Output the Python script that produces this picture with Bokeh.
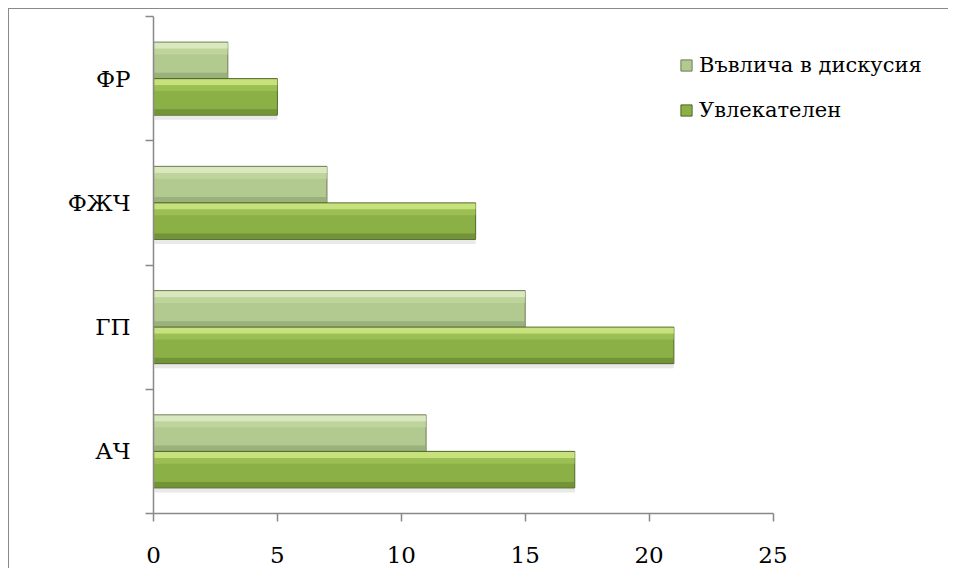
from bokeh.plotting import figure
from bokeh.models import ColumnDataSource, FixedTicker, Legend, LegendItem
from bokeh.transform import dodge
from bokeh.embed import file_html
from bokeh.resources import INLINE

# ---- data ----
categories = ["АЧ", "ГП", "ФЖЧ", "ФР"]
discussion = [11, 15, 7, 3]      # Въвлича в дискусия
engaging = [17, 21, 13, 5]       # Увлекателен
x_ticks = [0, 5, 10, 15, 20, 25]
series_names = ["Въвлича в дискусия", "Увлекателен"]

FONT = "DejaVu Serif"
FSIZE = "23px"
LSIZE = "21px"
GREY = "#898989"

W, H = 940, 560
ML, MR, MT, MB = 144, 4, 7, 56
X_MAX = 25
px_per_unit = 619.5 / X_MAX
x_end = (W - ML - MR) / px_per_unit

ypos = [i + 0.5 for i in range(len(categories))]
src = ColumnDataSource(dict(cat=categories, y=ypos, disc=discussion, eng=engaging))

p = figure(width=W, height=H, x_range=(0, x_end), y_range=(0, len(categories)),
           output_backend="svg", toolbar_location=None,
           min_border_left=ML, min_border_right=MR, min_border_top=MT, min_border_bottom=MB)
p.styles = {"margin-left": "8px", "margin-top": "8px",
            "border-left": "1.5px solid " + GREY, "border-top": "1.5px solid " + GREY}
p.outline_line_color = None
p.xgrid.visible = False
p.ygrid.visible = False
p.background_fill_color = "white"
p.border_fill_color = "white"

bh = 0.294
rng = p.y_range

# soft shadow under each pair
p.hbar(y=dodge("y", -bh - 0.018, range=rng), left=0.05, right="eng", height=0.036, source=src,
       fill_color="#cfcfcf", fill_alpha=0.45, line_color=None)

# light series (upper bar of each pair)
r_light = p.hbar(y=dodge("y", bh / 2, range=rng), left=0, right="disc", height=bh, source=src,
                 fill_color="#b2c98f", line_color="#6e7d58", line_width=1)
p.hbar(y=dodge("y", bh * 0.9, range=rng), left=0.03, right="disc", height=bh * 0.16, source=src,
       fill_color="#e4f0cb", fill_alpha=0.8, line_color=None)
p.hbar(y=dodge("y", bh * 0.74, range=rng), left=0.03, right="disc", height=bh * 0.16, source=src,
       fill_color="#c8dca6", fill_alpha=0.6, line_color=None)
p.hbar(y=dodge("y", bh * 0.09, range=rng), left=0.03, right="disc", height=bh * 0.14, source=src,
       fill_color="#91a775", fill_alpha=0.7, line_color=None)

# dark series (lower bar of each pair)
r_dark = p.hbar(y=dodge("y", -bh / 2, range=rng), left=0, right="eng", height=bh, source=src,
                fill_color="#8bb046", line_color="#4f6628", line_width=1)
p.hbar(y=dodge("y", -bh * 0.1, range=rng), left=0.03, right="eng", height=bh * 0.16, source=src,
       fill_color="#d6ef8a", fill_alpha=0.8, line_color=None)
p.hbar(y=dodge("y", -bh * 0.26, range=rng), left=0.03, right="eng", height=bh * 0.16, source=src,
       fill_color="#a6c95a", fill_alpha=0.6, line_color=None)
p.hbar(y=dodge("y", -bh * 0.91, range=rng), left=0.03, right="eng", height=bh * 0.14, source=src,
       fill_color="#6a8a34", fill_alpha=0.75, line_color=None)

# x axis
xa = p.xaxis[0]
xa.ticker = FixedTicker(ticks=x_ticks, minor_ticks=[])
xa.bounds = (0, X_MAX)
xa.axis_line_color = GREY
xa.axis_line_width = 1.5
xa.major_tick_line_color = GREY
xa.major_tick_line_width = 1.5
xa.major_tick_in = 0
xa.major_tick_out = 8
xa.minor_tick_line_color = None
xa.major_label_text_font = FONT
xa.major_label_text_font_size = FSIZE
xa.major_label_text_color = "black"
xa.major_label_standoff = 25

# y axis: labels at category centres, ticks between categories
ya = p.yaxis[0]
ya.ticker = FixedTicker(ticks=ypos, minor_ticks=[float(i) for i in range(len(categories) + 1)])
ya.major_label_overrides = {y: c for y, c in zip(ypos, categories)}
ya.axis_line_color = GREY
ya.axis_line_width = 1.5
ya.major_tick_line_color = None
ya.major_tick_in = 0
ya.major_tick_out = 0
ya.minor_tick_line_color = GREY
ya.minor_tick_line_width = 1.5
ya.minor_tick_in = 0
ya.minor_tick_out = 8
ya.major_label_text_font = FONT
ya.major_label_text_font_size = FSIZE
ya.major_label_text_color = "black"
ya.major_label_standoff = 15

legend = Legend(items=[LegendItem(label=series_names[0], renderers=[r_light]),
                       LegendItem(label=series_names[1], renderers=[r_dark])],
                location=(526, 391), orientation="vertical",
                padding=0, margin=0, spacing=21, label_standoff=6,
                glyph_width=14, glyph_height=14,
                border_line_color=None, background_fill_alpha=0,
                label_text_font=FONT, label_text_font_size=LSIZE, label_text_color="black")
p.add_layout(legend, "center")

open("out.html", "w").write(file_html(p, INLINE))
